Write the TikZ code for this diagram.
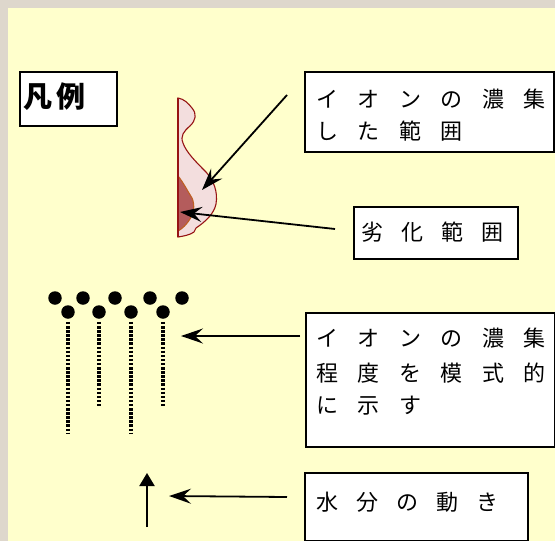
\documentclass[tikz,border=0pt]{standalone}
\usepackage{fontspec}
\setmainfont{Noto Sans CJK JP}
\usetikzlibrary{arrows.meta}
\definecolor{paper}{RGB}{255,255,204}
\definecolor{frame}{RGB}{222,215,204}
\definecolor{zoneedge}{RGB}{150,20,20}
\definecolor{zonefill}{RGB}{243,222,222}
\definecolor{damagefill}{RGB}{180,92,92}
\definecolor{damageedge}{RGB}{190,95,35}
% spaced Japanese text: characters separated by a fixed gap
\newcommand\kg[1]{\hspace{#1}}

\begin{document}
\begin{tikzpicture}[x=1pt,y=-1pt,
  labelbox/.style={draw=black,line width=1.8pt,fill=white,inner sep=0pt,anchor=north west},
  labeltext/.style={anchor=west,inner sep=0pt,font=\fontsize{22pt}{27pt}\selectfont},
  pointer/.style={line width=1.8pt,-{Stealth[length=22pt,width=15pt,inset=8pt]}},
  ion/.style={circle,fill=black,inner sep=0pt,minimum size=13.5pt},
  ionline/.style={line width=3.5pt,dash pattern=on 2.5pt off 1.6pt},
]
\useasboundingbox (0,0) rectangle (555,541);
\fill[frame] (0,0) rectangle (555,541);
\fill[paper] (8,8) rectangle (555,541);

% legend title
\node[labelbox,minimum width=97pt,minimum height=54pt] (legend) at (19,71) {};
\node[anchor=west,inner sep=0pt,font=\fontsize{29pt}{32pt}\selectfont\bfseries] (legendtext) at (23,97) {凡\kg{4pt}例};

% ion concentration zone and degraded zone
\path[draw=zoneedge,line width=1.1pt,fill=zonefill]
  (178,98) .. controls (184,99) and (188,103) .. (192,108)
  .. controls (197,114) and (196,120) .. (190,126)
  .. controls (184,131) and (180,136) .. (183,143)
  .. controls (186,152) and (196,162) .. (206,172)
  .. controls (214,181) and (218,192) .. (216,204)
  .. controls (214,214) and (205,222) .. (196,228)
  -- (194,232)
  .. controls (190,235) and (184,236) .. (178,237) -- cycle;
\path[draw=damageedge,line width=1.1pt,fill=damagefill]
  (178,176) .. controls (183,182) and (187,190) .. (192,198)
  .. controls (195,205) and (194,214) .. (190,219)
  .. controls (187,224) and (182,229) .. (178,231) -- cycle;
\draw[zoneedge,line width=1.1pt] (178,98) -- (178,237);

% boxes
\node[labelbox,minimum width=249pt,minimum height=80pt] (zonebox) at (304,71) {};
\node[labeltext] (zoneline1) at (316,99) {イ\kg{19.5pt}オ\kg{19.5pt}ン\kg{19.5pt}の\kg{19.5pt}濃\kg{19.5pt}集};
\node[labeltext] (zoneline2) at (316,131) {し\kg{19.5pt}た\kg{19.5pt}範\kg{19.5pt}囲};

\node[labelbox,minimum width=164pt,minimum height=52pt] (damagebox) at (353,206) {};
\node[labeltext] (damagetext) at (361,232) {劣\kg{18pt}化\kg{18pt}範\kg{18pt}囲};

\node[labelbox,minimum width=249pt,minimum height=134pt] (ionbox) at (305,312) {};
\node[labeltext] (ionline1) at (316,338) {イ\kg{19.5pt}オ\kg{19.5pt}ン\kg{19.5pt}の\kg{19.5pt}濃\kg{19.5pt}集};
\node[labeltext] (ionline2) at (316,373) {程\kg{19.5pt}度\kg{19.5pt}を\kg{19.5pt}模\kg{19.5pt}式\kg{19.5pt}的};
\node[labeltext] (ionline3) at (316,406) {に\kg{19.5pt}示\kg{19.5pt}す};

\node[labelbox,minimum width=223pt,minimum height=68pt] (waterbox) at (304,472) {};
\node[labeltext] (watertext) at (316,502) {水\kg{18pt}分\kg{18pt}の\kg{18pt}動\kg{18pt}き};

% ions
\node[ion] (i1) at (55,298) {};
\node[ion] (i2) at (83,298) {};
\node[ion] (i3) at (115,298) {};
\node[ion] (i4) at (150,298) {};
\node[ion] (i5) at (182,298) {};
\node[ion] (j1) at (68,312) {};
\node[ion] (j2) at (99,312) {};
\node[ion] (j3) at (131,312) {};
\node[ion] (j4) at (163,312) {};
\coordinate (k1) at (68,433);
\coordinate (k2) at (99,406);
\coordinate (k3) at (131,433);
\coordinate (k4) at (163,406);
\draw[ionline] ([yshift=-3pt]j1.south) -- (k1);
\draw[ionline] ([yshift=-3pt]j2.south) -- (k2);
\draw[ionline] ([yshift=-3pt]j3.south) -- (k3);
\draw[ionline] ([yshift=-3pt]j4.south) -- (k4);

% water movement
\coordinate (w0) at (147,527);
\coordinate (w1) at (147,473);
\draw[line width=2.2pt,-{Triangle[length=13pt,width=15pt]}] (w0) -- (w1);

% leader arrows
\coordinate (p1) at (287,95);
\coordinate (q1) at (202,190);
\coordinate (p2) at (335,229);
\coordinate (q2) at (180,212);
\coordinate (p3) at (300,336);
\coordinate (q3) at (181,336);
\coordinate (p4) at (287,497);
\coordinate (q4) at (169,496);
\draw[pointer] (p1) -- (q1);
\draw[pointer] (p2) -- (q2);
\draw[pointer] (p3) -- (q3);
\draw[pointer] (p4) -- (q4);
\end{tikzpicture}
\end{document}
